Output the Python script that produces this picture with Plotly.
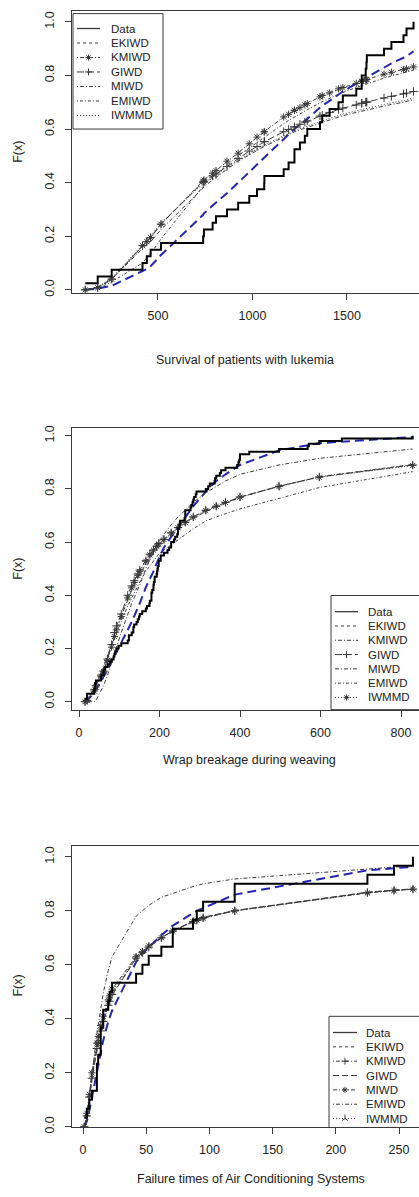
import plotly.graph_objects as go

W, H = 419, 1197
FONT = "Liberation Sans, Arial, sans-serif"
INK = "#222222"
LINE = "#3a3a3a"
BLUE = "#2424b8"

# ---------------- data ----------------
LEUKEMIA = [115, 181, 255, 418, 441, 461, 516, 739, 743, 789, 807, 865, 924, 983,
            1024, 1062, 1063, 1165, 1191, 1222, 1222, 1251, 1277, 1290, 1357, 1369,
            1408, 1455, 1478, 1549, 1578, 1578, 1599, 1603, 1605, 1696, 1735, 1799,
            1815, 1852]

YARN = [86, 146, 251, 653, 98, 249, 400, 292, 131, 169, 175, 176, 76, 264, 15, 364,
        195, 262, 88, 264, 157, 220, 42, 321, 180, 198, 38, 20, 61, 121, 282, 224,
        149, 180, 325, 250, 196, 90, 229, 166, 38, 337, 65, 151, 341, 40, 40, 135,
        597, 246, 211, 180, 93, 315, 353, 571, 124, 279, 81, 186, 497, 182, 423, 185,
        229, 400, 338, 290, 398, 71, 246, 185, 188, 568, 55, 55, 61, 244, 20, 284,
        393, 396, 203, 829, 239, 236, 286, 194, 277, 143, 198, 264, 105, 203, 124,
        137, 135, 350, 193, 188]

AIRCOND = [23, 261, 87, 7, 120, 14, 62, 47, 225, 71, 246, 21, 42, 20, 5, 12, 120, 11,
           3, 14, 71, 11, 14, 11, 16, 90, 1, 16, 52, 95]

MODELS = ["EKIWD", "KMIWD", "GIWD", "MIWD", "EMIWD", "IWMMD"]

# fitted CDF values
P1_X = LEUKEMIA
P1_EKIWD = [0.000, 0.005, 0.015, 0.068, 0.078, 0.088, 0.130, 0.280, 0.285, 0.315, 0.325,
            0.360, 0.400, 0.440, 0.470, 0.495, 0.496, 0.565, 0.580, 0.600, 0.600, 0.615,
            0.630, 0.638, 0.680, 0.687, 0.705, 0.730, 0.740, 0.770, 0.782, 0.782, 0.790,
            0.792, 0.793, 0.830, 0.845, 0.866, 0.872, 0.890]
P1_KMIWD = [0.000, 0.008, 0.040, 0.165, 0.180, 0.195, 0.245, 0.405, 0.410, 0.435, 0.445,
            0.480, 0.510, 0.545, 0.570, 0.590, 0.590, 0.645, 0.655, 0.670, 0.670, 0.680,
            0.690, 0.695, 0.720, 0.725, 0.735, 0.750, 0.755, 0.770, 0.778, 0.778, 0.783,
            0.785, 0.785, 0.805, 0.812, 0.822, 0.825, 0.832]
P1_GIWD = [0.000, 0.008, 0.040, 0.165, 0.180, 0.195, 0.245, 0.400, 0.405, 0.425, 0.432,
           0.460, 0.490, 0.518, 0.535, 0.553, 0.553, 0.590, 0.598, 0.608, 0.608, 0.618,
           0.626, 0.630, 0.648, 0.652, 0.662, 0.673, 0.678, 0.690, 0.696, 0.696, 0.700,
           0.701, 0.701, 0.716, 0.722, 0.731, 0.734, 0.740]
P1_MIWD = [0.000, 0.008, 0.040, 0.155, 0.170, 0.180, 0.225, 0.380, 0.385, 0.410, 0.420,
           0.450, 0.480, 0.505, 0.520, 0.535, 0.535, 0.570, 0.580, 0.590, 0.590, 0.597,
           0.603, 0.606, 0.622, 0.625, 0.635, 0.645, 0.650, 0.662, 0.667, 0.667, 0.671,
           0.672, 0.672, 0.686, 0.692, 0.700, 0.703, 0.710]
P1_EMIWD = [0.000, 0.005, 0.030, 0.100, 0.120, 0.135, 0.190, 0.385, 0.390, 0.420, 0.430,
            0.465, 0.500, 0.530, 0.550, 0.570, 0.570, 0.620, 0.632, 0.645, 0.645, 0.657,
            0.667, 0.672, 0.698, 0.702, 0.715, 0.730, 0.737, 0.755, 0.762, 0.762, 0.768,
            0.769, 0.770, 0.790, 0.798, 0.810, 0.813, 0.820]
P1_IWMMD = [0.000, 0.010, 0.045, 0.170, 0.185, 0.200, 0.250, 0.395, 0.400, 0.422, 0.430,
            0.458, 0.485, 0.510, 0.525, 0.540, 0.540, 0.575, 0.584, 0.594, 0.594, 0.602,
            0.608, 0.611, 0.628, 0.631, 0.641, 0.651, 0.656, 0.668, 0.673, 0.673, 0.677,
            0.678, 0.678, 0.692, 0.698, 0.706, 0.709, 0.716]

P2_X = [15, 20, 38, 42, 55, 61, 71, 81, 88, 93, 105, 121, 131, 137, 146, 151, 166, 176,
        185, 193, 198, 211, 229, 246, 264, 284, 315, 341, 364, 400, 497, 597, 829]
P2_EKIWD = [0.000, 0.003, 0.035, 0.045, 0.075, 0.090, 0.120, 0.150, 0.170, 0.185, 0.220,
            0.270, 0.300, 0.320, 0.355, 0.370, 0.430, 0.460, 0.490, 0.520, 0.535, 0.580,
            0.620, 0.655, 0.690, 0.735, 0.790, 0.830, 0.855, 0.890, 0.945, 0.972, 0.995]
P2_KMIWD = [0.000, 0.000, 0.000, 0.005, 0.040, 0.060, 0.100, 0.150, 0.180, 0.205, 0.260,
            0.330, 0.370, 0.390, 0.420, 0.440, 0.500, 0.535, 0.565, 0.590, 0.600, 0.630,
            0.665, 0.695, 0.720, 0.750, 0.785, 0.810, 0.830, 0.855, 0.890, 0.915, 0.950]
P2_GIWD = [0.000, 0.005, 0.045, 0.060, 0.100, 0.115, 0.160, 0.215, 0.260, 0.285, 0.330,
           0.400, 0.435, 0.455, 0.480, 0.495, 0.530, 0.555, 0.570, 0.585, 0.595, 0.610,
           0.635, 0.655, 0.675, 0.695, 0.720, 0.735, 0.750, 0.770, 0.810, 0.845, 0.890]
P2_MIWD = [0.000, 0.008, 0.050, 0.065, 0.105, 0.125, 0.170, 0.220, 0.255, 0.275, 0.320,
           0.385, 0.420, 0.440, 0.465, 0.480, 0.520, 0.545, 0.565, 0.580, 0.590, 0.605,
           0.630, 0.650, 0.670, 0.690, 0.715, 0.732, 0.747, 0.768, 0.810, 0.846, 0.892]
P2_EMIWD = [0.000, 0.005, 0.050, 0.065, 0.110, 0.130, 0.170, 0.210, 0.240, 0.260, 0.300,
            0.360, 0.390, 0.410, 0.435, 0.450, 0.490, 0.510, 0.530, 0.545, 0.555, 0.570,
            0.590, 0.610, 0.630, 0.650, 0.680, 0.695, 0.707, 0.725, 0.765, 0.805, 0.865]
P2_IWMMD = [0.000, 0.004, 0.040, 0.055, 0.095, 0.112, 0.155, 0.205, 0.245, 0.270, 0.320,
            0.390, 0.428, 0.448, 0.475, 0.490, 0.528, 0.552, 0.570, 0.584, 0.593, 0.610,
            0.634, 0.654, 0.674, 0.694, 0.719, 0.735, 0.749, 0.769, 0.809, 0.844, 0.888]

P3_X = [1, 3, 5, 7, 11, 12, 14, 16, 20, 21, 23, 42, 47, 52, 62, 71, 87, 90, 95, 120,
        225, 246, 261]
P3_EKIWD = [0.000, 0.020, 0.060, 0.110, 0.210, 0.235, 0.280, 0.320, 0.390, 0.405, 0.430,
            0.610, 0.640, 0.665, 0.710, 0.745, 0.790, 0.800, 0.810, 0.860, 0.950, 0.958,
            0.963]
P3_KMIWD = [0.000, 0.040, 0.110, 0.180, 0.290, 0.310, 0.355, 0.390, 0.450, 0.465, 0.490,
            0.625, 0.645, 0.665, 0.700, 0.725, 0.760, 0.765, 0.775, 0.800, 0.868, 0.876,
            0.880]
P3_GIWD = [0.000, 0.035, 0.105, 0.175, 0.285, 0.305, 0.350, 0.387, 0.447, 0.462, 0.487,
           0.624, 0.645, 0.665, 0.700, 0.726, 0.761, 0.766, 0.776, 0.801, 0.869, 0.877,
           0.881]
P3_MIWD = [0.000, 0.050, 0.120, 0.200, 0.310, 0.335, 0.375, 0.410, 0.470, 0.485, 0.510,
           0.630, 0.650, 0.670, 0.700, 0.725, 0.760, 0.765, 0.772, 0.800, 0.866, 0.875,
           0.880]
P3_EMIWD = [0.000, 0.025, 0.090, 0.190, 0.345, 0.375, 0.440, 0.495, 0.580, 0.600, 0.630,
            0.780, 0.800, 0.820, 0.850, 0.865, 0.890, 0.893, 0.900, 0.918, 0.955, 0.962,
            0.967]
P3_IWMMD = [0.000, 0.045, 0.115, 0.190, 0.300, 0.322, 0.365, 0.400, 0.460, 0.475, 0.500,
            0.628, 0.648, 0.668, 0.700, 0.725, 0.760, 0.765, 0.773, 0.800, 0.867, 0.875,
            0.880]

X_TITLES = ["Survival of patients with lukemia", "Wrap breakage during weaving",
            "Failure times of Air Conditioning Systems"]
P1_XTICKS = [500, 1000, 1500]
P2_XTICKS = [0, 200, 400, 600, 800]
P3_XTICKS = [0, 50, 100, 150, 200, 250]
Y_TICKS = [0.0, 0.2, 0.4, 0.6, 0.8, 1.0]
Y_TITLE = "F(x)"
LEGEND_LABELS = ["Data"] + MODELS

# ---------------- styles / geometry ----------------
DOTDASH = "1px,2px,4px,2px"
DOTTED = "1px,2px"
DASHED = "3px,3px"
LONGDASH = "7px,3px"
DOTLONG = "1px,2px,3px,2px"

STYLES = [
    {"EKIWD": (DASHED, None), "KMIWD": (DOTDASH, "asterisk-open"),
     "GIWD": (LONGDASH, "cross-thin-open"), "MIWD": (DOTDASH, None),
     "EMIWD": (DOTLONG, None), "IWMMD": (DOTTED, None)},
    {"EKIWD": (DASHED, None), "KMIWD": (DOTDASH, None),
     "GIWD": (LONGDASH, "cross-thin-open"), "MIWD": ("4px,2px,1px,2px", None),
     "EMIWD": (DOTLONG, None), "IWMMD": (DOTTED, "asterisk-open")},
    {"EKIWD": (DASHED, None), "KMIWD": (DOTDASH, "cross-thin-open"),
     "GIWD": ("6px,3px", None), "MIWD": ("4px,2px,1px,2px", "asterisk-open"),
     "EMIWD": ("1px,2px,4px,2px", None), "IWMMD": (DOTTED, "y-up-open")},
]

PANELS = [
    dict(data=LEUKEMIA, fx=P1_X,
         fits=dict(EKIWD=P1_EKIWD, KMIWD=P1_KMIWD, GIWD=P1_GIWD, MIWD=P1_MIWD,
                   EMIWD=P1_EMIWD, IWMMD=P1_IWMMD),
         xticks=P1_XTICKS, box=(8.3, 292.0), xr=[45, 1881], yr=[-0.011, 1.0396],
         title_y=360, title_x=245, ytitle_y=150,
         leg=dict(l=73, t=10.7, r=163, b=127, y0=25.7, dy=14.6, lx0=77, lx1=100, tx=110)),
    dict(data=YARN, fx=P2_X,
         fits=dict(EKIWD=P2_EKIWD, KMIWD=P2_KMIWD, GIWD=P2_GIWD, MIWD=P2_MIWD,
                   EMIWD=P2_EMIWD, IWMMD=P2_IWMMD),
         xticks=P2_XTICKS, box=(428.0, 712.0), xr=[-17.4, 844.7], yr=[-0.0299, 1.0299],
         title_y=763, title_x=250, ytitle_y=570,
         leg=dict(l=331, t=597, r=440, b=712, y0=613.3, dy=14.4, lx0=335, lx1=358, tx=367)),
    dict(data=AIRCOND, fx=P3_X,
         fits=dict(EKIWD=P3_EKIWD, KMIWD=P3_KMIWD, GIWD=P3_GIWD, MIWD=P3_MIWD,
                   EMIWD=P3_EMIWD, IWMMD=P3_IWMMD),
         xticks=P3_XTICKS, box=(849.0, 1133.0), xr=[-8.7, 265.8], yr=[-0.0026, 1.0415],
         title_y=1185, title_x=251, ytitle_y=990,
         leg=dict(l=329, t=1021, r=440, b=1133, y0=1037.3, dy=14.45, lx0=333, lx1=357, tx=365)),
]

fig = go.Figure()
annotations = []
shapes = []
layout_axes = {}

for k, p in enumerate(PANELS):
    n = k + 1
    xa = "x" if n == 1 else f"x{n}"
    ya = "y" if n == 1 else f"y{n}"
    styles = STYLES[k]

    # fitted curves
    for m in MODELS:
        dash, sym = styles[m]
        if m == "EKIWD":
            fig.add_trace(go.Scatter(x=p["fx"], y=p["fits"][m], mode="lines",
                                     line=dict(color=BLUE, width=2, dash="9px,5px"),
                                     xaxis=xa, yaxis=ya, showlegend=False))
            continue
        mode = "lines+markers" if sym else "lines"
        fig.add_trace(go.Scatter(
            x=p["fx"], y=p["fits"][m], mode=mode,
            line=dict(color=LINE, width=1, dash=dash),
            marker=dict(symbol=sym or "circle", size=6 if sym != "y-up-open" else 4,
                        color=LINE, line=dict(color=LINE, width=1)),
            xaxis=xa, yaxis=ya, showlegend=False))

    # empirical CDF
    xs = sorted(p["data"])
    nn = len(xs)
    ys = [(i + 1) / nn for i in range(nn)]
    fig.add_trace(go.Scatter(x=xs, y=ys, mode="lines", line=dict(color="#000000", width=2, shape="hv"),
                             xaxis=xa, yaxis=ya, showlegend=False))

    top, bot = p["box"]
    dom_y = [1 - bot / H, 1 - top / H]
    axis_common = dict(showgrid=False, zeroline=False, showline=True, linecolor=LINE,
                       linewidth=1, ticks="outside", ticklen=6, tickwidth=1,
                       tickcolor=LINE, tickfont=dict(family=FONT, size=12.5, color=INK),
                       fixedrange=True)
    layout_axes["xaxis" if n == 1 else f"xaxis{n}"] = dict(
        axis_common, domain=[72 / W, 1.0], range=p["xr"], anchor=ya,
        tickvals=p["xticks"], ticktext=[str(v) for v in p["xticks"]],
        mirror=True, ticklabelstandoff=5)
    layout_axes["yaxis" if n == 1 else f"yaxis{n}"] = dict(
        axis_common, domain=dom_y, range=p["yr"], anchor=xa,
        tickvals=Y_TICKS, ticktext=[f"{v:.1f}" for v in Y_TICKS],
        tickangle=-90, ticklabelstandoff=6)

    annotations.append(dict(text=X_TITLES[k], x=p["title_x"] / W, y=1 - p["title_y"] / H,
                            xref="paper", yref="paper", showarrow=False,
                            xanchor="center", yanchor="middle",
                            font=dict(family=FONT, size=12.5, color=INK)))
    annotations.append(dict(text=Y_TITLE, x=18 / W, y=1 - p["ytitle_y"] / H,
                            xref="paper", yref="paper", showarrow=False, textangle=-90,
                            xanchor="center", yanchor="middle",
                            font=dict(family=FONT, size=12.5, color=INK)))

    # legend
    L = p["leg"]
    shapes.append(dict(type="rect", xref="paper", yref="paper",
                       x0=L["l"] / W, x1=L["r"] / W, y0=1 - L["b"] / H, y1=1 - L["t"] / H,
                       line=dict(color=LINE, width=1), fillcolor="rgba(0,0,0,0)",
                       layer="above"))
    for i, lab in enumerate(LEGEND_LABELS):
        yc = L["y0"] + i * L["dy"]
        if lab == "Data":
            dash, sym, w = "solid", None, 1.3
        else:
            dash, sym = styles[lab]
            w = 1
        fig.add_trace(go.Scatter(x=[L["lx0"], L["lx1"]], y=[yc, yc], mode="lines",
                                 line=dict(color=LINE, width=w, dash=dash),
                                 xaxis="x4", yaxis="y4", showlegend=False, hoverinfo="skip"))
        if sym:
            fig.add_trace(go.Scatter(x=[(L["lx0"] + L["lx1"]) / 2], y=[yc], mode="markers",
                                     marker=dict(symbol=sym, size=5, color=LINE,
                                                 line=dict(color=LINE, width=1)),
                                     xaxis="x4", yaxis="y4", showlegend=False,
                                     hoverinfo="skip"))
        annotations.append(dict(text=lab, x=L["tx"] / W, y=1 - yc / H, xref="paper",
                                yref="paper", showarrow=False, xanchor="left",
                                yanchor="middle", borderpad=0,
                                font=dict(family=FONT, size=11.5, color=INK)))

layout_axes["xaxis4"] = dict(domain=[0, 1], range=[0, W], visible=False, anchor="y4",
                             fixedrange=True)
layout_axes["yaxis4"] = dict(domain=[0, 1], range=[H, 0], visible=False, anchor="x4",
                             fixedrange=True)

fig.update_layout(width=W, height=H, margin=dict(l=0, r=0, t=0, b=0),
                  paper_bgcolor="white", plot_bgcolor="rgba(0,0,0,0)", showlegend=False,
                  annotations=annotations, shapes=shapes,
                  font=dict(family=FONT, color=INK), **layout_axes)

fig.write_html("out.html",
               config={"displayModeBar": False, "staticPlot": True},
               post_script="document.body.style.margin='0';document.body.style.padding='0';"
                           "document.body.style.overflow='hidden';"
                           "document.documentElement.style.overflow='hidden';")
